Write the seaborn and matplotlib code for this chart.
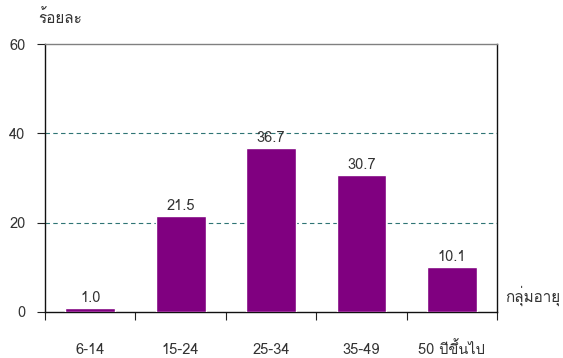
import matplotlib
matplotlib.use("Agg")
import matplotlib.pyplot as plt
import seaborn as sns
import pandas as pd
from matplotlib import font_manager as fm
from matplotlib import ft2font

categories = ["6-14", "15-24", "25-34", "35-49", "50 ปีขึ้นไป"]
values = [1.0, 21.5, 36.7, 30.7, 10.1]
yticks = [0, 20, 40, 60]
ylabel_text = "ร้อยละ"
xlabel_text = "กลุ่มอายุ"

# find a font with Thai glyphs if any
thai_name = None
for e in fm.fontManager.ttflist:
    try:
        cm = ft2font.FT2Font(e.fname).get_charmap()
    except Exception:
        continue
    if 0x0E23 in cm and 0x0E38 in cm and 0x0E49 in cm:
        thai_name = e.name
        break

sns.set_theme(style="white")
fams = ([thai_name] if thai_name else []) + ["DejaVu Sans"]
plt.rcParams["font.family"] = fams

df = pd.DataFrame({"cat": categories, "val": values})
fig = plt.figure(figsize=(5.63, 3.58), dpi=100)
ax = fig.add_axes([0.080, 0.1285, 0.803, 0.7485])
sns.barplot(data=df, x="cat", y="val", color="#800080", saturation=1,
            width=0.55, ax=ax, zorder=3)
ax.set_xlim(-0.5, 4.5)
ax.set_ylim(0, 60)
ax.set_yticks(yticks)
ax.set_yticklabels([str(t) for t in yticks], fontsize=10.5, color="#333333")
for y in [20, 40]:
    ax.axhline(y, color="#2e7474", linestyle=(0, (4, 3)), linewidth=0.8, zorder=1)

# ticks at category boundaries, labels at centers
ax.set_xticks([i - 0.5 for i in range(len(categories) + 1)])
ax.set_xticklabels([])
ax.set_xticks(range(len(categories)), minor=True)
ax.set_xticklabels(categories, minor=True, fontsize=10.5, color="#333333",
                   va="baseline")
ax.tick_params(axis="x", which="major", direction="out", length=6, width=0.8,
               color="#222222", bottom=True)
ax.tick_params(axis="x", which="minor", length=0, pad=30)
ax.tick_params(axis="y", direction="out", length=6, width=0.8, color="#222222",
               left=True, pad=8)
ax.set_xlabel("")
ax.set_ylabel("")

for s in ["left", "bottom"]:
    ax.spines[s].set_color("#111111")
    ax.spines[s].set_linewidth(1.0)
ax.spines["top"].set_color("#808080")
ax.spines["top"].set_linewidth(1.0)
ax.spines["right"].set_color("#111111")
ax.spines["right"].set_linewidth(1.0)
for s in ax.spines.values():
    s.set_visible(True)

for c in ax.containers:
    ax.bar_label(c, labels=[f"{v:.1f}" for v in values], padding=2,
                 fontsize=10.5, color="#333333")

fig.text(38 / 563, 1 - 18 / 358, ylabel_text, fontsize=11, color="#333333",
         ha="left", va="center")
fig.text(505 / 563, 1 - 296 / 358, xlabel_text, fontsize=11, color="#333333",
         ha="left", va="center")

fig.savefig("out.png", dpi=100)
